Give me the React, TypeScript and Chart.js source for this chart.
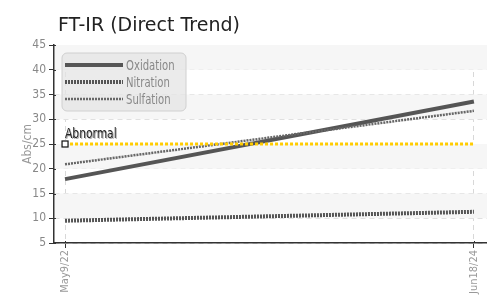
import React, { useEffect, useRef } from "react";
import { Chart, registerables } from "chart.js";

Chart.register(...registerables);

const xLabels = ["May9/22", "Jun18/24"];
const xPositions = [0, 1];
const oxidation = [17.9, 33.6];
const nitration = [9.5, 11.3];
const sulfation = [20.9, 31.7];
const abnormal = [25, 25];
const yTicks = [5, 10, 15, 20, 25, 30, 35, 40, 45];

const NARROW = "'DejaVu Sans Condensed', 'DejaVu Sans', sans-serif";

const bandsPlugin = {
  id: "bands",
  beforeDatasetsDraw(chart: any) {
    const { ctx, chartArea, scales } = chart;
    const y = scales.y;
    ctx.save();
    ctx.fillStyle = "#f6f6f6";
    for (let v = 45; v > 5; v -= 10) {
      const top = y.getPixelForValue(v);
      const bot = y.getPixelForValue(v - 5);
      ctx.fillRect(chartArea.left + 1, top, chartArea.right - chartArea.left, bot - top);
    }
    ctx.restore();
  },
};

function narrowText(ctx: CanvasRenderingContext2D, text: string, x: number, y: number, sx: number) {
  ctx.save();
  ctx.translate(x, y);
  ctx.scale(sx, 1);
  ctx.fillText(text, 0, 0);
  ctx.restore();
}

const decorPlugin = {
  id: "decor",
  afterDraw(chart: any) {
    const { ctx, scales, chartArea } = chart;
    const x = scales.x;
    const y = scales.y;
    ctx.save();
    // inner tick halves
    ctx.strokeStyle = "#333";
    ctx.lineWidth = 1;
    yTicks.forEach((v) => {
      const py = Math.round(y.getPixelForValue(v)) + 0.5;
      ctx.beginPath();
      ctx.moveTo(chartArea.left, py);
      ctx.lineTo(chartArea.left + 2, py);
      ctx.stroke();
    });
    xPositions.forEach((v) => {
      const px = Math.round(x.getPixelForValue(v)) + 0.5;
      ctx.beginPath();
      ctx.moveTo(px, chartArea.bottom);
      ctx.lineTo(px, chartArea.bottom - 2);
      ctx.stroke();
    });

    // title
    ctx.fillStyle = "#222";
    ctx.font = "19px 'DejaVu Sans', sans-serif";
    ctx.textBaseline = "alphabetic";
    ctx.textAlign = "left";
    ctx.fillText("FT-IR (Direct Trend)", 58, 31);

    // abnormal marker + label
    const ax = x.getPixelForValue(xPositions[0]);
    const ay = y.getPixelForValue(abnormal[0]);
    ctx.fillStyle = "#fff";
    ctx.strokeStyle = "#111";
    ctx.lineWidth = 1.2;
    ctx.fillRect(ax - 3, ay - 3, 6, 6);
    ctx.strokeRect(ax - 3, ay - 3, 6, 6);
    ctx.font = "14px " + NARROW;
    ctx.textBaseline = "alphabetic";
    ctx.fillStyle = "#aaa";
    narrowText(ctx, "Abnormal", ax + 1, ay - 5, 0.85);
    ctx.fillStyle = "#222";
    narrowText(ctx, "Abnormal", ax, ay - 6, 0.85);

    // legend
    const bx = 62, by = 53, bw = 124, bh = 58;
    ctx.beginPath();
    (ctx as any).roundRect(bx, by, bw, bh, 5);
    ctx.fillStyle = "rgba(228,228,228,0.75)";
    ctx.fill();
    ctx.strokeStyle = "#d0d0d0";
    ctx.lineWidth = 1;
    ctx.stroke();
    const items = [
      { label: "Oxidation", width: 4, dash: [] as number[], color: "#555" },
      { label: "Nitration", width: 4, dash: [2, 1], color: "#555" },
      { label: "Sulfation", width: 2.5, dash: [2, 1], color: "#666" },
    ];
    items.forEach((it, i) => {
      const ly = by + 12 + i * 17;
      ctx.beginPath();
      ctx.setLineDash(it.dash);
      ctx.strokeStyle = it.color;
      ctx.lineWidth = it.width;
      ctx.moveTo(bx + 3, ly);
      ctx.lineTo(bx + 61, ly);
      ctx.stroke();
      ctx.setLineDash([]);
      ctx.fillStyle = "#888";
      ctx.font = "14px " + NARROW;
      ctx.textBaseline = "middle";
      ctx.textAlign = "left";
      narrowText(ctx, it.label, bx + 64, ly + 1, 0.8);
    });
    ctx.restore();
  },
};

export default function App() {
  const ref = useRef<HTMLCanvasElement | null>(null);
  useEffect(() => {
    if (!ref.current) return;
    const toPts = (arr: number[]) => arr.map((v, i) => ({ x: xPositions[i], y: v }));
    const chart = new Chart(ref.current, {
      type: "line",
      data: {
        datasets: [
          {
            label: "Abnormal",
            data: toPts(abnormal),
            borderColor: "#ffcc00",
            borderWidth: 3,
            borderDash: [3, 2],
            pointRadius: 0,
          },
          {
            label: "Nitration",
            data: toPts(nitration),
            borderColor: "#555",
            borderWidth: 4,
            borderDash: [2, 1],
            pointRadius: 0,
          },
          {
            label: "Sulfation",
            data: toPts(sulfation),
            borderColor: "#666",
            borderWidth: 2.5,
            borderDash: [2, 1],
            pointRadius: 0,
          },
          {
            label: "Oxidation",
            data: toPts(oxidation),
            borderColor: "#555",
            borderWidth: 4,
            pointRadius: 0,
          },
        ],
      },
      options: {
        animation: false,
        responsive: false,
        maintainAspectRatio: false,
        layout: { padding: { top: 45, right: 0, left: 21, bottom: 0 } },
        plugins: { legend: { display: false }, tooltip: { enabled: false }, title: { display: false } },
        scales: {
          x: {
            type: "linear",
            min: -0.027,
            max: 1.032,
            afterBuildTicks(scale: any) {
              scale.ticks = xPositions.map((v) => ({ value: v }));
            },
            afterFit(scale: any) {
              scale.height = 58;
              scale.paddingLeft = 0;
              scale.paddingRight = 0;
            },
            ticks: {
              minRotation: 90,
              maxRotation: 90,
              color: "#999",
              font: { family: NARROW, size: 11 },
              padding: 2,
              callback: (v: any) => {
                const i = xPositions.indexOf(Number(v));
                return i >= 0 ? xLabels[i] : "";
              },
            },
            grid: {
              color: "#d8d8d8",
              tickColor: "#333",
              tickLength: 5,
              drawOnChartArea: true,
            },
            border: { color: "#333", width: 1.5, dash: [5, 4] },
          },
          y: {
            min: 5,
            max: 45,
            afterBuildTicks(scale: any) {
              scale.ticks = yTicks.map((v) => ({ value: v }));
            },
            afterFit(scale: any) {
              scale.width = 33;
            },
            title: {
              display: true,
              text: "Abs/cm",
              color: "#999",
              font: { family: NARROW, size: 12 },
              padding: 0,
            },
            ticks: {
              color: "#888",
              font: { family: NARROW, size: 12 },
              padding: 3,
            },
            grid: {
              color: "#d8d8d8",
              tickColor: "#333",
              tickLength: 5,
            },
            border: { color: "#333", width: 1.5, dash: [5, 4] },
          },
        },
      } as any,
      plugins: [bandsPlugin, decorPlugin],
    });
    return () => chart.destroy();
  }, []);
  return (
    <div style={{ position: "absolute", left: 0, top: 0, width: 487, height: 301, background: "#fff" }}>
      <canvas ref={ref} width={487} height={301} style={{ width: 487, height: 301 }} />
    </div>
  );
}
